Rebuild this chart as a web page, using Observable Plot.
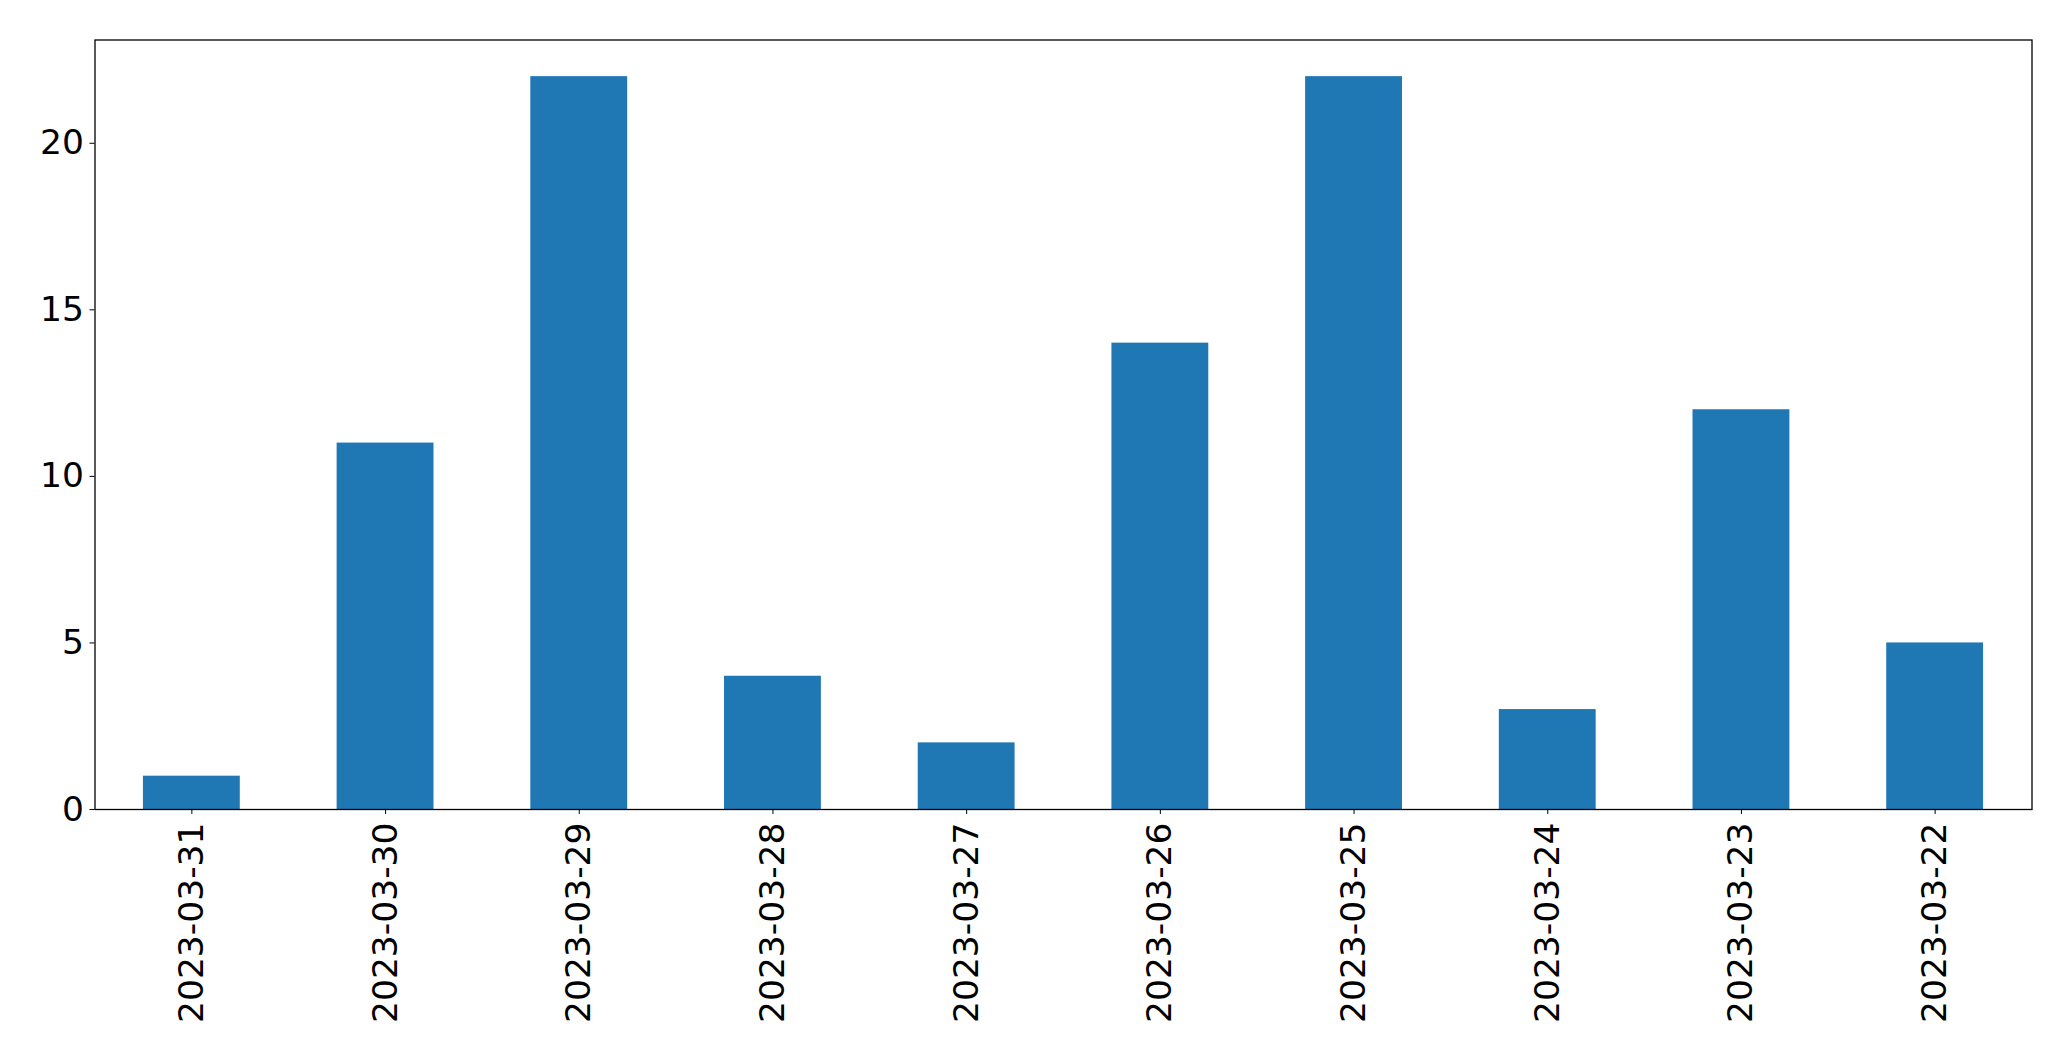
<!DOCTYPE html>
<html>
<head>
<meta charset="utf-8">
<script src="https://cdn.jsdelivr.net/npm/d3@7"></script>
<script src="https://cdn.jsdelivr.net/npm/@observablehq/plot@0.6"></script>
<style>
  html, body { margin: 0; padding: 0; background: #fff; }
  #chart svg { display: block; }
</style>
</head>
<body>
<div id="chart"></div>
<script>
const dates = ["2023-03-31", "2023-03-30", "2023-03-29", "2023-03-28", "2023-03-27", "2023-03-26", "2023-03-25", "2023-03-24", "2023-03-23", "2023-03-22"];
const counts = [1, 11, 22, 4, 2, 14, 22, 3, 12, 5];
const yTicks = [0, 5, 10, 15, 20];

const data = dates.map((d, i) => ({date: d, count: counts[i]}));

const chart = Plot.plot({
  width: 2071,
  height: 1061,
  marginLeft: 94.5,
  marginRight: 39.5,
  marginTop: 39.5,
  marginBottom: 252,
  style: {fontFamily: "DejaVu Sans", fontSize: "34.5px", background: "#fff", color: "#000"},
  x: {domain: dates, paddingInner: 0.5, paddingOuter: 0.25, round: false, label: null},
  y: {domain: [0, 23.1], label: null},
  marks: [
    Plot.barY(data, {x: "date", y: "count", fill: "#1f77b4"}),
    Plot.axisY({ticks: yTicks, tickSize: 5, tickPadding: 6, label: null, fontSize: 34.5}),
    Plot.axisX({tickSize: 5, tickRotate: -90, tickPadding: 8, label: null, fontSize: 34.5}),
    Plot.frame({stroke: "#000", strokeWidth: 1.3})
  ]
});
document.getElementById("chart").appendChild(chart);
</script>
</body>
</html>
